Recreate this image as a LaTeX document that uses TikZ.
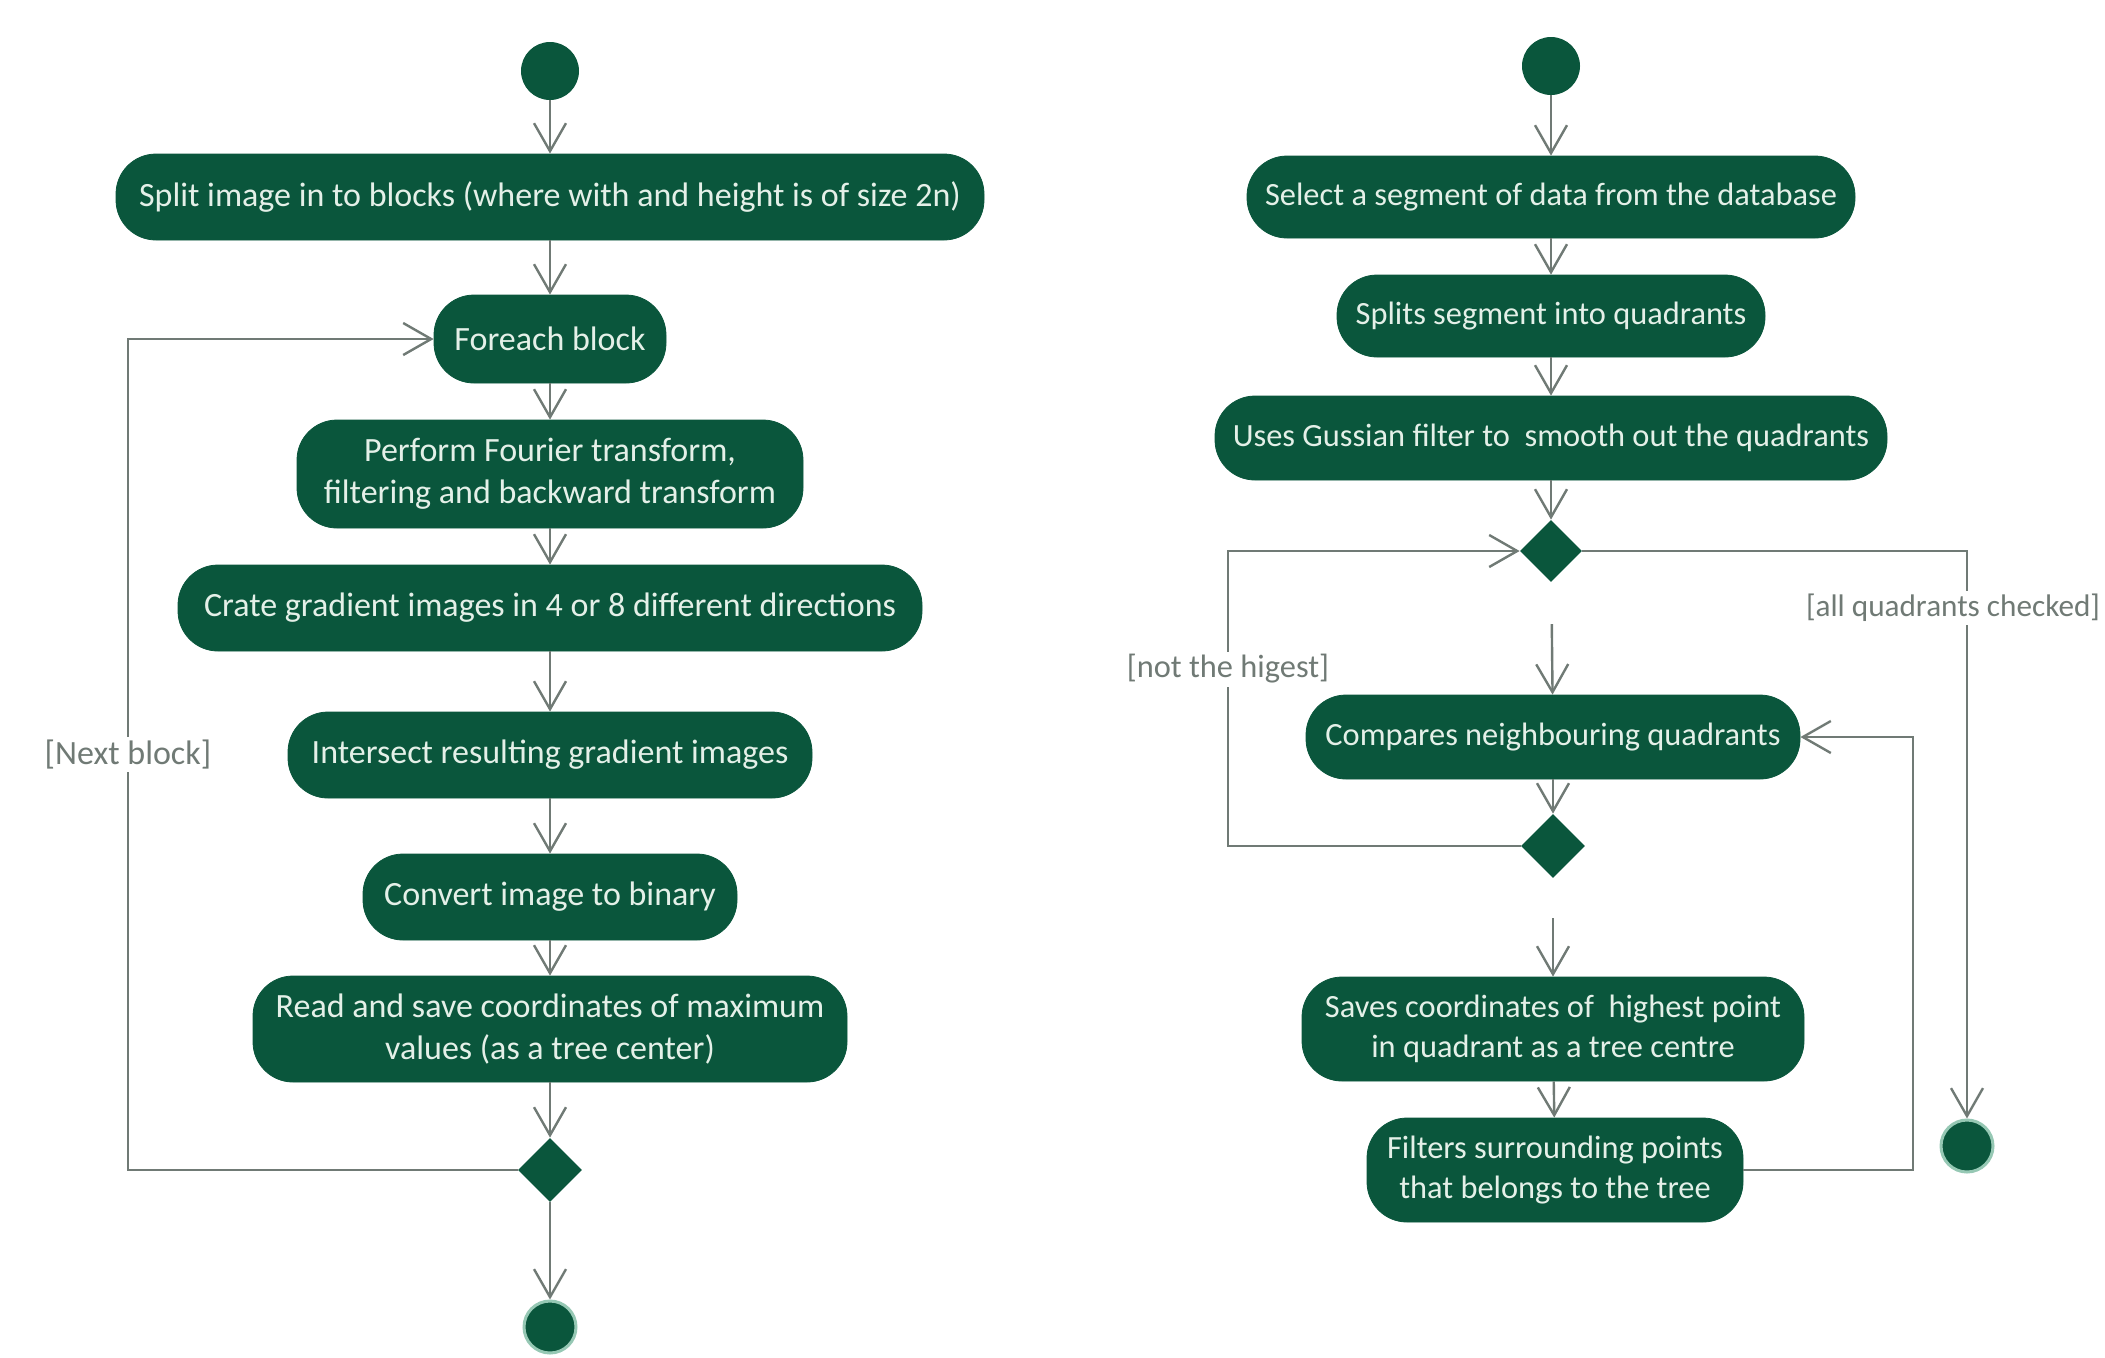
\documentclass[tikz,border=0pt]{standalone}
\usepackage{fontspec}
\setmainfont{Carlito}
\usetikzlibrary{arrows.meta,
                positioning,
                shapes.geometric
            }

\definecolor{actgreen}{RGB}{10,86,60}
\definecolor{flowgrey}{RGB}{112,122,117}
\definecolor{acttext}{RGB}{228,240,232}
\definecolor{endring}{RGB}{150,200,180}

\begin{document}
\begin{tikzpicture}[x=0.5pt, y=-0.5pt,
        act/.style={fill=actgreen, draw=actgreen, rounded corners=20pt, text=acttext,
            align=center, inner sep=0pt, minimum height=43pt,
            font=\fontsize{17}{21}\selectfont},
        ract/.style={act, font=\fontsize{16.2}{20}\selectfont},
        startdot/.style={circle, fill=actgreen, minimum size=29pt, inner sep=0pt},
        enddot/.style={circle, fill=actgreen, draw=endring, line width=1.5pt,
            minimum size=26pt, inner sep=0pt},
        decision/.style={diamond, fill=actgreen, minimum size=32pt, inner sep=0pt, aspect=1},
        flow/.style={draw=flowgrey, line width=1.2pt,
            -{Straight Barb[length=14pt, width=16pt]}},
        guard/.style={fill=white, text=flowgrey, inner sep=1.5pt,
            font=\fontsize{17}{21}\selectfont},
        rguard/.style={guard, font=\fontsize{16.2}{20}\selectfont}
    ]
    \useasboundingbox (0, 0) rectangle (2105, 1357);

    % left flow: image blocks
    \node[startdot] (lstart) at (550, 71) {};
    \node[act, minimum width=434pt] (split) at (550, 197) {Split image in to blocks (where with and height is of size 2n)};
    \node[act, minimum width=116pt, minimum height=44pt] (foreach) at (550, 339) {Foreach block};
    \node[act, minimum width=253pt, minimum height=54pt] (fourier) at (550, 474) {Perform Fourier transform,\\filtering and backward transform};
    \node[act, minimum width=372pt] (gradient) at (550, 608) {Crate gradient images in 4 or 8 different directions};
    \node[act, minimum width=262pt] (intersect) at (550, 755) {Intersect resulting gradient images};
    \node[act, minimum width=187pt] (binary) at (550, 897) {Convert image to binary};
    \node[act, minimum width=297pt, minimum height=53pt] (readsave) at (550, 1029) {Read and save coordinates of maximum\\values (as a tree center)};
    \node[decision] (ldec) at (550, 1170) {};
    \node[enddot] (lend) at (550, 1327) {};
    \coordinate (lloop) at (128, 1170);

    \draw[flow] (lstart) -- (split);
    \draw[flow] (split) -- (foreach);
    \draw[flow] (foreach) -- (fourier);
    \draw[flow] (fourier) -- (gradient);
    \draw[flow] (gradient) -- (intersect);
    \draw[flow] (intersect) -- (binary);
    \draw[flow] (binary) -- (readsave);
    \draw[flow] (readsave) -- (ldec);
    \draw[flow] (ldec) -- (lend);
    \draw[flow] (ldec.west) -- (lloop) |- node[guard, pos=0.25] {[Next block]} (foreach.west);

    % right flow: segments and quadrants
    \node[startdot] (rstart) at (1551, 66) {};
    \node[ract, minimum width=304pt, minimum height=41pt] (select) at (1551, 197) {Select a segment of data from the database};
    \node[ract, minimum width=214pt, minimum height=41pt] (splits) at (1551, 316) {Splits segment into quadrants};
    \node[ract, minimum width=336pt, minimum height=42pt] (gauss) at (1551, 438) {Uses Gussian filter to\ \ smooth out the quadrants};
    \node[decision, minimum size=31pt] (rdec1) at (1551, 551) {};
    \node[ract, minimum width=247pt, minimum height=42pt] (compare) at (1553, 737) {Compares neighbouring quadrants};
    \node[decision] (rdec2) at (1553, 846) {};
    \node[ract, minimum width=251pt, minimum height=52pt] (saves) at (1553, 1029) {Saves coordinates of\ \ highest point\\in quadrant as a tree centre};
    \node[ract, minimum width=188pt, minimum height=52pt] (filters) at (1555, 1170) {Filters surrounding points\\that belongs to the tree};
    \node[enddot] (rend) at (1967, 1146) {};
    \coordinate (rloop) at (1228, 846);
    \coordinate (rback) at (1913, 1170);

    \draw[flow] (rstart) -- (select);
    \draw[flow] (select) -- (splits);
    \draw[flow] (splits) -- (gauss);
    \draw[flow] (gauss) -- (rdec1);
    \draw[flow, shorten <=21pt] (rdec1) -- (compare);
    \draw[flow] (compare) -- (rdec2);
    \draw[flow, shorten <=20pt] (rdec2) -- (saves);
    \draw[flow] (saves) -- (filters);
    \draw[flow] (rdec2.west) -- (rloop) |- node[rguard, pos=0.3] {[not the higest]} (rdec1.west);
    \draw[flow] (rdec1.east) -| node[rguard, pos=0.55, xshift=-7pt, font=\fontsize{15.6}{19}\selectfont] {[all quadrants checked]} (rend.north);
    \draw[flow] (filters.east) -- (rback) |- (compare.east);
\end{tikzpicture}
\end{document}
